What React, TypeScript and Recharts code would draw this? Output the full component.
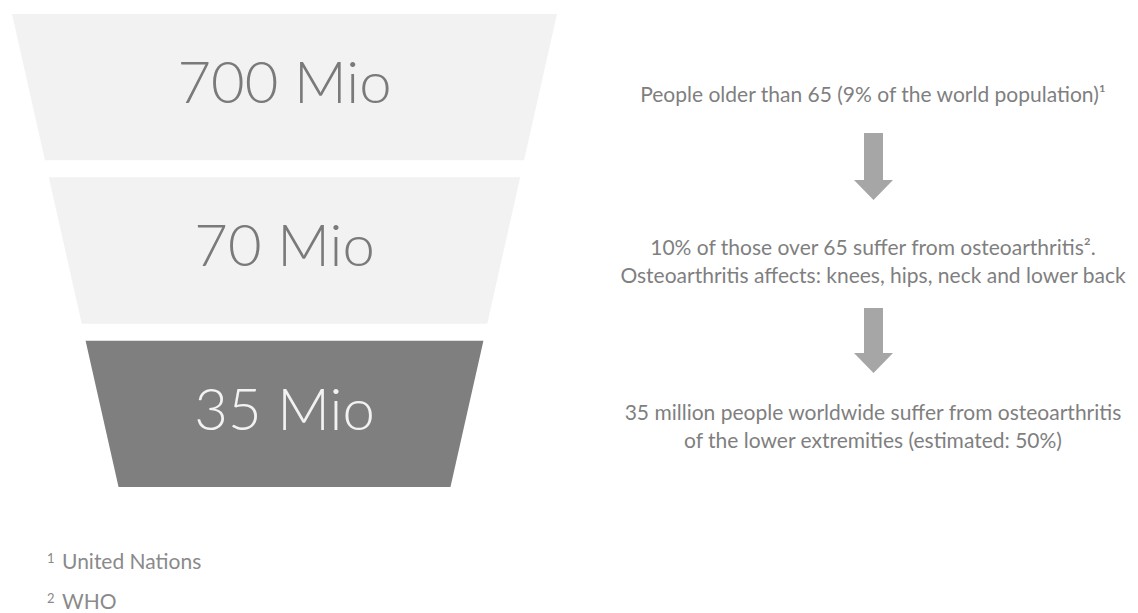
import { FunnelChart, Funnel } from "recharts"

/* Etapas del embudo: valores reales y el ancho relativo con el que se dibuja cada escalón */
const STAGES = ["Population 65+", "Osteoarthritis", "Lower extremities"]
const STAGE_VALUES = [700, 70, 35]
const STAGE_LABELS = ["700 Mio", "70 Mio", "35 Mio"]
const FUNNEL_WIDTH = [100, 86.5, 73]

const DESCRIPTIONS = [
  ["People older than 65 (9% of the world population)¹"],
  ["10% of those over 65 suffer from osteoarthritis².", "Osteoarthritis affects: knees, hips, neck and lower back"],
  ["35 million people worldwide suffer from osteoarthritis", "of the lower extremities (estimated: 50%)"],
]

const SOURCES = ["United Nations", "WHO"]

const GAP = 17
const TAPER = 0.815

const rows = STAGES.map((stage, i) => ({
  stage,
  value: STAGE_VALUES[i],
  label: STAGE_LABELS[i],
  width: FUNNEL_WIDTH[i],
}))

function Step(props: any) {
  const { x, y, upperWidth, lowerWidth, height, payload } = props
  const idx = rows.findIndex(r => r.stage === (payload?.stage ?? props.name))
  const last = idx === rows.length - 1
  const lw = last ? upperWidth * TAPER : lowerWidth
  const h = height - GAP
  const bottom = upperWidth + (lw - upperWidth) * h / height
  const cx = x + upperWidth / 2
  const d = `M${x},${y} L${x + upperWidth},${y} L${cx + bottom / 2},${y + h} L${cx - bottom / 2},${y + h} Z`
  return (
    <g>
      <path d={d} fill={last ? "#7f7f7f" : "#f2f2f2"} />
      <text x={cx} y={y + 89} textAnchor="middle"
        style={{ fontFamily: "Lato, sans-serif", fontWeight: 300, fontSize: 58, fill: last ? "#f2f2f2" : "#7a7a7a" }}>
        {rows[idx]?.label}
      </text>
    </g>
  )
}

const DESC_Y = [[101.7], [255, 283], [420, 448]]
const ARROWS_Y = [[133, 180, 200], [308, 353, 373]]

export default function App() {
  return (
    <div style={{ position: "absolute", left: 0, top: 0, width: 1138, height: 613, background: "#fff", overflow: "hidden" }}>
      <div style={{ position: "absolute", left: 12, top: 14 }}>
        <FunnelChart width={545} height={490} margin={{ top: 0, right: 0, bottom: 0, left: 0 }}>
          <Funnel data={rows} dataKey="width" nameKey="stage" isAnimationActive={false}
            lastShapeType="rectangle" shape={(p: any) => <Step {...p} />} />
        </FunnelChart>
      </div>

      <svg width={1138} height={613} style={{ position: "absolute", left: 0, top: 0 }}>
        {DESCRIPTIONS.map((lines, i) =>
          lines.map((ln, j) => (
            <text key={`${i}-${j}`} x={873} y={DESC_Y[i][j]} textAnchor="middle"
              style={{ fontFamily: "Lato, sans-serif", fontSize: 21, fill: "#7f7f7f" }}>
              {ln}
            </text>
          ))
        )}
        {ARROWS_Y.map(([top, neck, tip], i) => (
          <path key={i}
            d={`M864,${top} L883,${top} L883,${neck} L893,${neck} L873.5,${tip} L854,${neck} L864,${neck} Z`}
            fill="#a6a6a6" />
        ))}
        {SOURCES.map((s, i) => (
          <text key={s} x={47} y={569 + i * 40}
            style={{ fontFamily: "Lato, sans-serif", fontSize: 21, fill: "#8a8a8a" }}>
            <tspan fontSize={13} dy={-6}>{i + 1}</tspan>
            <tspan x={62} dy={6}>{s}</tspan>
          </text>
        ))}
      </svg>
    </div>
  )
}
